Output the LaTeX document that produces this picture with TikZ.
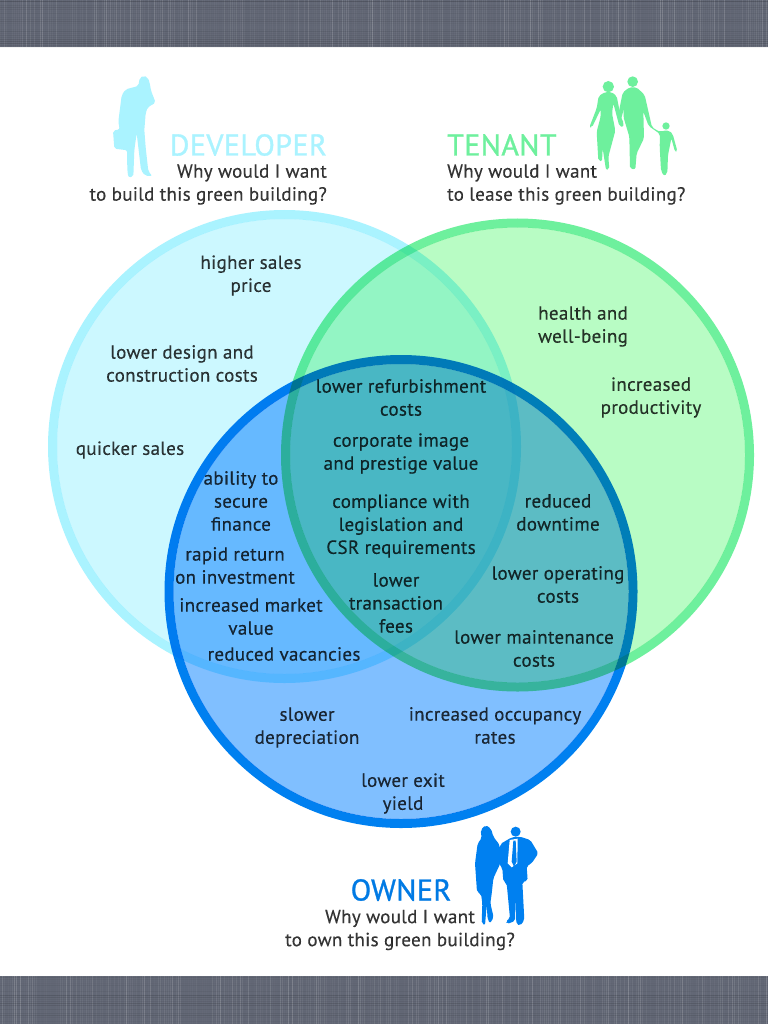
\documentclass[tikz,border=0pt]{standalone}
\usepackage{fontspec}
\setmainfont{PT Sans}[LetterSpace=1.7,FakeBold=0.3]
\newfontfamily\titlefont{PT Sans}[LetterSpace=1.4,FakeBold=1.1]
\usepackage{tikz}
\usetikzlibrary{positioning}

\definecolor{devfill}{HTML}{CCF8FF}
\definecolor{devring}{HTML}{AAF3FF}
\definecolor{tenfill}{HTML}{B8FCC4}
\definecolor{tenring}{HTML}{6EF09D}
\definecolor{ownfill}{HTML}{80BFFF}
\definecolor{ownring}{HTML}{0080F0}
\definecolor{bandgray}{HTML}{626775}

\tikzset{
  lbl/.style={align=center, inner sep=0pt, text=black, text opacity=.78, font=\fontsize{19}{23}\selectfont},
  hdr/.style={inner sep=0pt, font=\titlefont\fontsize{30}{36}\selectfont},
  disc/.style={blend mode=multiply},
  ring/.style={blend mode=multiply, line width=9pt},
}

\begin{document}
\begin{tikzpicture}[x=1pt,y=-1pt]
\useasboundingbox (0,0) rectangle (768,1024);
\fill[white] (0,0) rectangle (768,1024);

% grey bands
\fill[bandgray] (0,0) rectangle (768,47);
\fill[bandgray] (0,976) rectangle (768,1024);
\pgfmathsetseed{7}
\foreach \x in {0,2,...,768} {
   \pgfmathsetmacro\lev{rnd*rnd*.22}
   \draw[white, opacity=\lev, line width=.7pt] (\x,0) -- (\x,47);
   \pgfmathsetmacro\lev{rnd*rnd*.22}
   \draw[white, opacity=\lev, line width=.7pt] (\x,976) -- (\x,1024);
}
\foreach \y in {1,3,...,47} {
   \pgfmathsetmacro\lev{rnd*rnd*.2}
   \draw[black, opacity=\lev, line width=.7pt] (0,\y) -- (768,\y);
   \pgfmathsetmacro\lev{rnd*rnd*.2}
   \draw[black, opacity=\lev, line width=.7pt] (0,976+\y) -- (768,976+\y);
}

% the three circles
\fill[disc, devfill] (284.5,446.5) circle[radius=227.5];
\draw[ring, devring] (284.5,446.5) circle[radius=232];
\fill[disc, tenfill] (517.5,455) circle[radius=227.5];
\draw[ring, tenring] (517.5,455) circle[radius=232];
\fill[disc, ownfill] (401,591.5) circle[radius=227.5];
\draw[ring, ownring] (401,591.5) circle[radius=232];

% developer
\begin{scope}[shift={(105,70)}, scale=1/3]
\fill[devring, rounded corners=2pt] (100,48) -- (104,24) -- (116,17) -- (128,22) -- (134,38) -- (138,62) -- (152,98)
   -- (128,112) -- (122,130) -- (118,180) -- (122,232) -- (130,304) -- (142,318) -- (120,317) -- (108,300) -- (100,232)
   -- (95,190) -- (88,240) -- (85,320) -- (70,322) -- (67,300) -- (66,240) -- (60,240) -- (28,236) -- (24,182)
   -- (44,178) -- (40,155) -- (50,76) -- (62,58) -- cycle;
\end{scope}

% tenant
\begin{scope}[shift={(580,70)}, scale=1/3]
\fill[tenring] (85,50) circle[radius=17];
\fill[tenring, rounded corners=2pt] (76,66) -- (56,78) -- (50,115) -- (28,172) -- (36,172) -- (62,118) -- (62,140)
   -- (50,185) -- (55,272) -- (66,274) -- (68,235) -- (78,300) -- (88,298) -- (85,260) -- (106,182) -- (96,130)
   -- (100,100) -- (118,168) -- (128,172) -- (132,160) -- (122,140) -- (110,78) -- (94,66) -- cycle;
\fill[tenring] (158,35) circle[radius=16];
\fill[tenring, rounded corners=2pt] (148,52) -- (128,68) -- (112,148) -- (122,152) -- (132,115) -- (130,140) -- (148,200)
   -- (150,296) -- (166,298) -- (170,250) -- (192,205) -- (190,125) -- (206,168) -- (240,192) -- (239,230) -- (243,302)
   -- (252,318) -- (262,310) -- (264,255) -- (274,205) -- (285,245) -- (292,243) -- (278,192) -- (268,182) -- (248,182)
   -- (240,186) -- (216,172) -- (194,75) -- (170,52) -- cycle;
\fill[tenring] (258,168) circle[radius=11];
\end{scope}

% owner
\begin{scope}[shift={(465,820)}, scale=1/3]
\fill[ownring, rounded corners=2pt] (47,30) -- (62,15) -- (78,26) -- (85,50) -- (104,75) -- (106,130) -- (85,175)
   -- (80,222) -- (76,250) -- (86,292) -- (75,310) -- (68,298) -- (65,255) -- (60,316) -- (50,310) -- (52,250) -- (48,222)
   -- (36,216) -- (30,130) -- (38,70) -- (50,55) -- cycle;
\fill[ownring] (152,35) circle[radius=15];
\fill[ownring, rounded corners=2pt] (140,52) -- (106,72) -- (100,128) -- (112,145) -- (115,184) -- (125,190) -- (135,295)
   -- (122,304) -- (126,312) -- (150,303) -- (152,230) -- (154,312) -- (166,317) -- (178,300) -- (172,186) -- (188,182) -- (185,138)
   -- (200,130) -- (220,100) -- (196,60) -- (165,50) -- cycle;
\fill[white] (134,60) -- (158,56) -- (157,130) -- (140,142) -- (128,130) -- cycle;
\fill[ownring] (145,62) -- (152,62) -- (155,125) -- (147,140) -- (140,125) -- cycle;
\end{scope}

% headings
\node[hdr, text=devring, anchor=east] (devtitle) at (327,145) {DEVELOPER};
\node[hdr, text=tenring, anchor=west] (tentitle) at (447,145) {TENANT};
\node[hdr, text=ownring!95!black, anchor=center] (owntitle) at (401,890) {OWNER};

\path
(327,184.5) node[lbl, anchor=east, align=right] (devask) {Why would I want\\to build this green building?}
(447,184.5) node[lbl, anchor=west, align=left] (tenask) {Why would I want\\to lease this green building?}
(400,930) node[lbl] (ownask) {Why would I want\\to own this green building?};

% developer only
\path
(251,275.5) node[lbl] (higher) {higher sales\\price}
(182,363.5) node[lbl] (design) {lower design and\\construction costs}
(130,450) node[lbl] (quicker) {quicker sales};

% tenant only
\path
(583,326.5) node[lbl] (health) {health and\\well-being}
(651,397.5) node[lbl] (product) {increased\\productivity};

% developer and owner
\path
(241,501) node[lbl] (finance) {ability to\\secure\\finance}
(235,565.5) node[lbl] (rapid) {rapid return\\on investment}
(251,616.5) node[lbl] (market) {increased market\\value}
(284,654) node[lbl] (vacancies) {reduced vacancies};

% all three
\path
(401,397.5) node[lbl] (refurb) {lower refurbishment\\costs}
(401,453.5) node[lbl] (image) {corporate image\\and prestige value}
(401,526) node[lbl] (comply) {compliance with\\legislation and\\CSR requirements}
(396,603) node[lbl] (fees) {lower\\transaction\\fees};

% tenant and owner
\path
(558,512.5) node[lbl] (downtime) {reduced\\downtime}
(558,584.5) node[lbl] (operating) {lower operating\\costs}
(534,648.5) node[lbl] (maint) {lower maintenance\\costs};

% owner only
\path
(307,727.5) node[lbl] (deprec) {slower\\depreciation}
(495,725.5) node[lbl] (occup) {increased occupancy\\rates}
(403,793.5) node[lbl] (exit) {lower exit\\yield};

\end{tikzpicture}
\end{document}
